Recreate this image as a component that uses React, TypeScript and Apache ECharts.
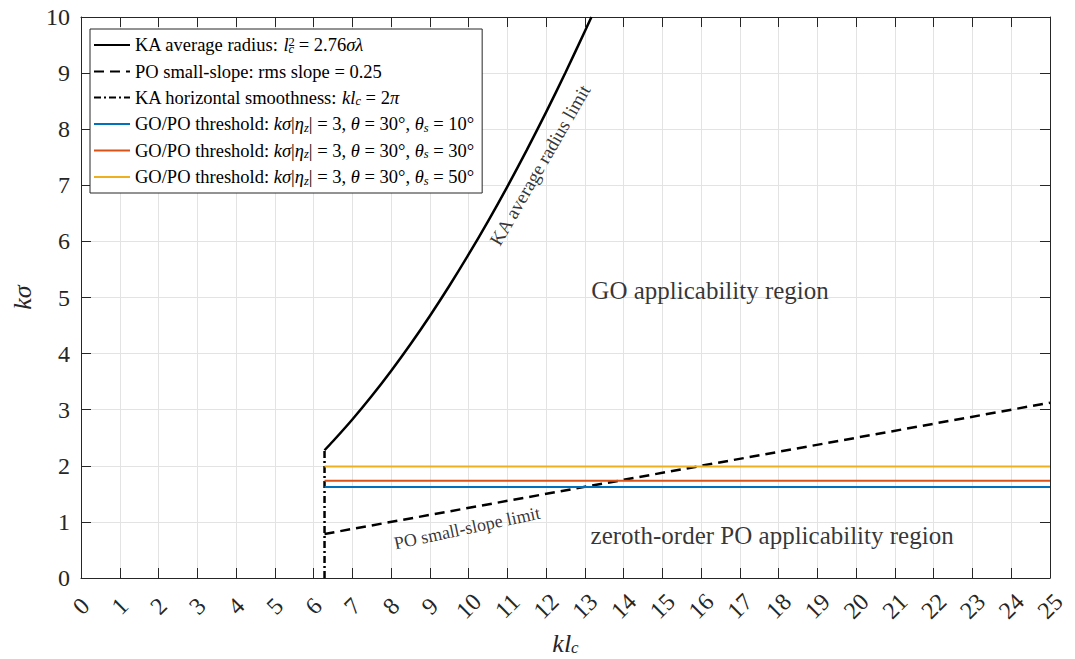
import React, { useEffect, useRef } from "react";
import * as echarts from "echarts";

const FONT = "Liberation Serif";

// KA average radius limit curve
const kaX = [6.283, 6.5, 7, 7.5, 8, 8.5, 9, 9.5, 10, 10.5, 11, 11.5, 12, 12.5, 13, 13.17];
const kaY = [2.277, 2.437, 2.826, 3.244, 3.691, 4.167, 4.671, 5.205, 5.767, 6.358, 6.978, 7.627, 8.304, 9.011, 9.746, 10.0];

// PO small-slope limit (straight dashed line)
const poX = [6.283, 25];
const poY = [0.785, 3.125];

// KA horizontal smoothness (vertical dash-dot line at kl_c = 2π)
const hsX = [6.283, 6.283];
const hsY = [0, 2.277];

// GO/PO thresholds
const thrX = [6.283, 25];
const thr10 = 1.621;
const thr30 = 1.732;
const thr50 = 1.988;

const seriesNames = [
  "KA average radius: l_c^2 = 2.76σλ",
  "PO small-slope: rms slope = 0.25",
  "KA horizontal smoothness: kl_c = 2π",
  "GO/PO threshold: θs = 10°",
  "GO/PO threshold: θs = 30°",
  "GO/PO threshold: θs = 50°",
];

const legendRich = [
  "{n|KA average radius: }{i|l}{sup0|2}{sub|c}{n| = 2.76}{i|σλ}",
  "{n|PO small-slope: rms slope = 0.25}",
  "{n|KA horizontal smoothness: }{i|kl}{sub|c}{n| = 2}{i|π}",
  "{n|GO/PO threshold: }{i|kσ}{n||}{i|η}{sub|z}{n|| = 3, }{i|θ}{n| = 30°, }{i|θ}{sub|s}{n| = 10°}",
  "{n|GO/PO threshold: }{i|kσ}{n||}{i|η}{sub|z}{n|| = 3, }{i|θ}{n| = 30°, }{i|θ}{sub|s}{n| = 30°}",
  "{n|GO/PO threshold: }{i|kσ}{n||}{i|η}{sub|z}{n|| = 3, }{i|θ}{n| = 30°, }{i|θ}{sub|s}{n| = 50°}",
];

const annotations = [
  { text: "KA average radius limit", x: 11.84, y: 7.36, rotate: 60, size: 19 },
  { text: "PO small-slope limit", x: 9.96, y: 0.89, rotate: 12, size: 18 },
  { text: "GO applicability region", x: 16.23, y: 5.13, rotate: 0, size: 25 },
  { text: "zeroth-order PO applicability region", x: 17.83, y: 0.75, rotate: 0, size: 25 },
];

const xTicks = { min: 0, max: 25, interval: 1 };
const yTicks = { min: 0, max: 10, interval: 1 };

const zip = (xs: number[], ys: number[]) => xs.map((x, i) => [x, ys[i]]);

const AXIS_COLOR = "#262626";

export default function App() {
  const ref = useRef<HTMLDivElement>(null);
  useEffect(() => {
    if (!ref.current) return;
    const chart = echarts.init(ref.current, undefined, { renderer: "svg" });
    const lineBase = (name: string, data: number[][], color: string, type: any, width: number, smooth: any = false) => ({
      name,
      type: "line",
      data,
      symbol: "none",
      showSymbol: false,
      smooth,
      silent: true,
      lineStyle: { color, width, type },
      itemStyle: { color },
      z: 3,
    });
    const richN = { fontFamily: FONT, fontSize: 18.5, color: "#000", lineHeight: 20 };
    const richI = { ...richN, fontStyle: "italic" };
    const option: any = {
      animation: false,
      grid: { left: 81, right: 25, top: 17, bottom: 81, containLabel: false, outerBoundsMode: "none" },
      xAxis: [
        {
          type: "value",
          ...xTicks,
          position: "bottom",
          name: "{i|kl}{sub|c}",
          nameLocation: "middle",
          nameGap: 52,
          nameTextStyle: {
            rich: {
              i: { fontFamily: FONT, fontSize: 26, fontStyle: "italic", color: "#262626", lineHeight: 26 },
              sub: { fontFamily: FONT, fontSize: 17, fontStyle: "italic", color: "#262626", verticalAlign: "bottom", lineHeight: 12 },
            },
          },
          axisLine: { show: true, onZero: false, lineStyle: { color: AXIS_COLOR, width: 1 } },
          axisTick: { show: true, inside: true, length: 10, lineStyle: { color: AXIS_COLOR } },
          axisLabel: {
            rotate: 45,
            align: "center",
            verticalAlign: "middle",
            margin: 28,
            fontFamily: FONT,
            fontSize: 24,
            color: "#262626",
          },
          splitLine: { show: true, lineStyle: { color: "#e3e3e3", width: 1 } },
        },
        {
          type: "value",
          ...xTicks,
          position: "top",
          axisLine: { show: true, onZero: false, lineStyle: { color: AXIS_COLOR, width: 1 } },
          axisTick: { show: true, inside: true, length: 10, lineStyle: { color: AXIS_COLOR } },
          axisLabel: { show: false },
          splitLine: { show: false },
        },
      ],
      yAxis: [
        {
          type: "value",
          ...yTicks,
          position: "left",
          name: "kσ",
          nameLocation: "middle",
          nameGap: 44,
          nameTextStyle: { fontFamily: FONT, fontSize: 26, fontStyle: "italic", color: "#262626" },
          axisLine: { show: true, onZero: false, lineStyle: { color: AXIS_COLOR, width: 1 } },
          axisTick: { show: true, inside: true, length: 10, lineStyle: { color: AXIS_COLOR } },
          axisLabel: { margin: 11, fontFamily: FONT, fontSize: 24, color: "#262626" },
          splitLine: { show: true, lineStyle: { color: "#e3e3e3", width: 1 } },
        },
        {
          type: "value",
          ...yTicks,
          position: "right",
          axisLine: { show: true, onZero: false, lineStyle: { color: AXIS_COLOR, width: 1 } },
          axisTick: { show: true, inside: true, length: 10, lineStyle: { color: AXIS_COLOR } },
          axisLabel: { show: false },
          splitLine: { show: false },
        },
      ],
      legend: {
        data: seriesNames,
        orient: "vertical",
        left: 90,
        top: 29,
        itemWidth: 36,
        itemHeight: 14,
        itemGap: 7,
        padding: [6, 8, 6, 3],
        backgroundColor: "#fff",
        borderColor: "#262626",
        borderWidth: 1,
        borderRadius: 0,
        selectedMode: false,
        itemStyle: { opacity: 0 },
        formatter: (name: string) => legendRich[seriesNames.indexOf(name)],
        textStyle: {
          fontFamily: FONT,
          fontSize: 18.5,
          color: "#000",
          rich: {
            n: richN,
            i: richI,
            sub: { fontFamily: FONT, fontSize: 12.5, fontStyle: "italic", color: "#000", verticalAlign: "bottom", lineHeight: 9 },
            sup0: { fontFamily: FONT, fontSize: 12.5, color: "#000", verticalAlign: "top", lineHeight: 9, width: 0 },
          },
        },
      },
      series: [
        lineBase(seriesNames[0], zip(kaX, kaY), "#000", "solid", 2.5, 0.3),
        lineBase(seriesNames[1], zip(poX, poY), "#000", [10, 6], 2.5),
        lineBase(seriesNames[2], zip(hsX, hsY), "#000", [7, 3, 2, 3], 2.5),
        lineBase(seriesNames[3], zip(thrX, [thr10, thr10]), "#0072BD", "solid", 2),
        lineBase(seriesNames[4], zip(thrX, [thr30, thr30]), "#D95319", "solid", 2),
        lineBase(seriesNames[5], zip(thrX, [thr50, thr50]), "#EDB120", "solid", 2),
        {
          name: "annotations",
          type: "scatter",
          symbolSize: 0,
          silent: true,
          z: 4,
          data: annotations.map((a) => ({
            value: [a.x, a.y],
            label: {
              show: true,
              position: "inside",
              formatter: a.text,
              rotate: a.rotate,
              fontSize: a.size,
              fontFamily: FONT,
              color: "#000",
              align: "center",
              verticalAlign: "middle",
            },
          })),
        },
      ],
    };
    chart.setOption(option);
    return () => chart.dispose();
  }, []);
  return (
    <div
      ref={ref}
      style={{ position: "absolute", left: 0, top: 0, width: 1075, height: 659, background: "#fff" }}
    />
  );
}
